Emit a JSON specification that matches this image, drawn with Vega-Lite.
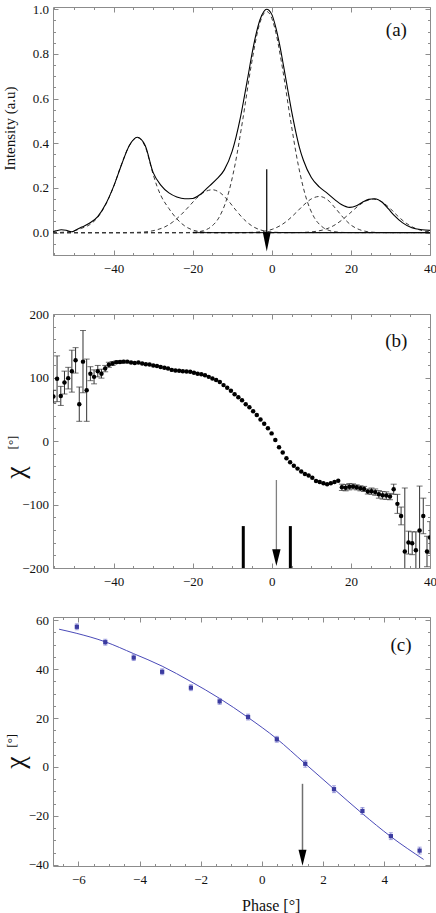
{
"$schema":"https://vega.github.io/schema/vega-lite/v6.json",
"padding":{"left":1,"top":3,"right":0,"bottom":0},
"background":"white",
"spacing":23,
"config":{
 "view":{"stroke":null},
 "font":"Liberation Serif",
 "axis":{"labelFont":"Liberation Serif","labelFontSize":13,"labelColor":"#111","domainColor":"#8c8c8c","tickColor":"#8c8c8c","domainWidth":1,"tickWidth":1,"grid":false,"labelFlush":false,"labelOverlap":false,"titleFont":"Liberation Serif","titleFontWeight":"normal","titleColor":"#111"},
 "text":{"font":"Liberation Serif"}
},
"datasets":{
 "one":[{}],
 "comp":[
  {"c":"C1","x":-55.3,"y":0},{"c":"C1","x":-52,"y":0.003},{"c":"C1","x":-50,"y":0.008},{"c":"C1","x":-48,"y":0.02},{"c":"C1","x":-46,"y":0.036},{"c":"C1","x":-44,"y":0.068},{"c":"C1","x":-42,"y":0.125},{"c":"C1","x":-40,"y":0.205},{"c":"C1","x":-38,"y":0.305},{"c":"C1","x":-36,"y":0.39},{"c":"C1","x":-34,"y":0.425},{"c":"C1","x":-32,"y":0.385},{"c":"C1","x":-30,"y":0.262},{"c":"C1","x":-29,"y":0.207},{"c":"C1","x":-28,"y":0.165},{"c":"C1","x":-26,"y":0.108},{"c":"C1","x":-24,"y":0.062},{"c":"C1","x":-22,"y":0.03},{"c":"C1","x":-20,"y":0.012},{"c":"C1","x":-18,"y":0.004},{"c":"C1","x":-16,"y":0.001},{"c":"C1","x":-14,"y":0},{"c":"C1","x":40,"y":0},
  {"c":"C2","x":-55.3,"y":0},{"c":"C2","x":-38,"y":0},{"c":"C2","x":-35,"y":0.001},{"c":"C2","x":-33,"y":0.002},{"c":"C2","x":-31,"y":0.0055},{"c":"C2","x":-29,"y":0.013},{"c":"C2","x":-27,"y":0.026},{"c":"C2","x":-25,"y":0.048},{"c":"C2","x":-23,"y":0.079},{"c":"C2","x":-21,"y":0.116},{"c":"C2","x":-19,"y":0.154},{"c":"C2","x":-17,"y":0.182},{"c":"C2","x":-15,"y":0.192},{"c":"C2","x":-13,"y":0.178},{"c":"C2","x":-11,"y":0.143},{"c":"C2","x":-9,"y":0.099},{"c":"C2","x":-7,"y":0.059},{"c":"C2","x":-5,"y":0.03},{"c":"C2","x":-3,"y":0.013},{"c":"C2","x":-1,"y":0.005},{"c":"C2","x":1,"y":0.0017},{"c":"C2","x":3,"y":0.0005},{"c":"C2","x":5,"y":0},{"c":"C2","x":40,"y":0},
  {"c":"C3","x":-55.3,"y":0},{"c":"C3","x":-24,"y":0},{"c":"C3","x":-21.3,"y":0.0006},{"c":"C3","x":-19.3,"y":0.0025},{"c":"C3","x":-17.3,"y":0.0087},{"c":"C3","x":-15.3,"y":0.027},{"c":"C3","x":-13.3,"y":0.069},{"c":"C3","x":-11.3,"y":0.155},{"c":"C3","x":-9.3,"y":0.303},{"c":"C3","x":-7.3,"y":0.509},{"c":"C3","x":-5.3,"y":0.737},{"c":"C3","x":-3.3,"y":0.92},{"c":"C3","x":-2.3,"y":0.972},{"c":"C3","x":-1.3,"y":0.99},{"c":"C3","x":-0.3,"y":0.972},{"c":"C3","x":0.7,"y":0.92},{"c":"C3","x":2.7,"y":0.737},{"c":"C3","x":4.7,"y":0.509},{"c":"C3","x":6.7,"y":0.303},{"c":"C3","x":8.7,"y":0.155},{"c":"C3","x":10.7,"y":0.069},{"c":"C3","x":12.7,"y":0.027},{"c":"C3","x":14.7,"y":0.0087},{"c":"C3","x":16.7,"y":0.0025},{"c":"C3","x":18.7,"y":0.0006},{"c":"C3","x":22,"y":0},{"c":"C3","x":40,"y":0},
  {"c":"C4","x":-55.3,"y":0},{"c":"C4","x":-8,"y":0},{"c":"C4","x":-5.9,"y":0.0008},{"c":"C4","x":-3.9,"y":0.0023},{"c":"C4","x":-1.9,"y":0.0063},{"c":"C4","x":0.1,"y":0.015},{"c":"C4","x":2.1,"y":0.031},{"c":"C4","x":4.1,"y":0.056},{"c":"C4","x":6.1,"y":0.089},{"c":"C4","x":8.1,"y":0.124},{"c":"C4","x":10.1,"y":0.152},{"c":"C4","x":12.1,"y":0.162},{"c":"C4","x":14.1,"y":0.147},{"c":"C4","x":16.1,"y":0.109},{"c":"C4","x":18.1,"y":0.067},{"c":"C4","x":20.1,"y":0.033},{"c":"C4","x":22.1,"y":0.014},{"c":"C4","x":24.1,"y":0.0047},{"c":"C4","x":26.1,"y":0.0013},{"c":"C4","x":28.1,"y":0.0003},{"c":"C4","x":30,"y":0},{"c":"C4","x":40,"y":0},
  {"c":"C5","x":-55.3,"y":0},{"c":"C5","x":5,"y":0},{"c":"C5","x":7.7,"y":0.001},{"c":"C5","x":9.7,"y":0.003},{"c":"C5","x":11.7,"y":0.0074},{"c":"C5","x":13.7,"y":0.016},{"c":"C5","x":15.7,"y":0.032},{"c":"C5","x":17.7,"y":0.056},{"c":"C5","x":19.7,"y":0.086},{"c":"C5","x":21.7,"y":0.117},{"c":"C5","x":23.7,"y":0.141},{"c":"C5","x":25.7,"y":0.15},{"c":"C5","x":27.7,"y":0.139},{"c":"C5","x":29.7,"y":0.112},{"c":"C5","x":31.7,"y":0.077},{"c":"C5","x":33.7,"y":0.046},{"c":"C5","x":35.7,"y":0.024},{"c":"C5","x":37.7,"y":0.0105},{"c":"C5","x":40,"y":0.0034}
 ],
 "prof":[
  {"x":-55.3,"y":0.004},{"x":-54.5,"y":0.008},{"x":-53.2,"y":0.013},{"x":-52,"y":0.011},{"x":-50.6,"y":0.004},{"x":-49.5,"y":0.012},{"x":-48,"y":0.025},{"x":-46,"y":0.043},{"x":-44,"y":0.072},{"x":-42,"y":0.127},{"x":-40,"y":0.206},{"x":-38,"y":0.303},{"x":-36,"y":0.39},{"x":-34,"y":0.427},{"x":-32,"y":0.39},{"x":-30,"y":0.27},{"x":-28,"y":0.212},{"x":-26,"y":0.178},{"x":-24,"y":0.16},{"x":-22,"y":0.152},{"x":-20,"y":0.153},{"x":-18,"y":0.172},{"x":-16,"y":0.205},{"x":-14,"y":0.238},{"x":-12,"y":0.281},{"x":-10,"y":0.365},{"x":-9,"y":0.43},{"x":-8,"y":0.509},{"x":-7,"y":0.602},{"x":-6,"y":0.7},{"x":-5,"y":0.8},{"x":-4,"y":0.886},{"x":-3,"y":0.952},{"x":-2,"y":0.99},{"x":-1.3,"y":1.0},{"x":0,"y":0.977},{"x":1,"y":0.92},{"x":2,"y":0.84},{"x":3,"y":0.744},{"x":4,"y":0.644},{"x":5,"y":0.545},{"x":6,"y":0.457},{"x":7,"y":0.381},{"x":8,"y":0.324},{"x":10,"y":0.247},{"x":12,"y":0.205},{"x":14,"y":0.177},{"x":16,"y":0.147},{"x":17.6,"y":0.126},{"x":19.7,"y":0.113},{"x":21.4,"y":0.12},{"x":23,"y":0.137},{"x":24.5,"y":0.149},{"x":26,"y":0.152},{"x":28,"y":0.135},{"x":29.5,"y":0.106},{"x":31,"y":0.076},{"x":33,"y":0.045},{"x":35.4,"y":0.022},{"x":38,"y":0.013},{"x":40,"y":0.01}
 ],
 "chi":[
  {"x":-55.2,"v":70,"e":10},{"x":-54.27,"v":98,"e":36},{"x":-53.33,"v":71,"e":15},{"x":-52.4,"v":92,"e":18},{"x":-51.46,"v":99,"e":17},{"x":-50.53,"v":110,"e":33},{"x":-49.59,"v":127,"e":20},{"x":-48.66,"v":58,"e":27},{"x":-47.72,"v":125,"e":49},{"x":-46.79,"v":80,"e":49},{"x":-45.85,"v":106,"e":11},{"x":-44.92,"v":101,"e":11},{"x":-43.98,"v":110,"e":9},{"x":-43.05,"v":106,"e":7},{"x":-42.11,"v":114,"e":5},{"x":-41.18,"v":120,"e":4},{"x":-40.24,"v":122,"e":3},{"x":-39.31,"v":124,"e":2},{"x":-38.37,"v":124.5,"e":2},{"x":-37.44,"v":125,"e":2},
  {"x":-36.5,"v":125,"e":0},{"x":-35.57,"v":123.5,"e":0},{"x":-34.63,"v":123,"e":0},{"x":-33.7,"v":123.5,"e":0},{"x":-32.76,"v":122,"e":0},{"x":-31.83,"v":121,"e":0},{"x":-30.89,"v":120.5,"e":0},{"x":-29.96,"v":119,"e":0},{"x":-29.02,"v":118,"e":0},{"x":-28.09,"v":116.5,"e":0},{"x":-27.15,"v":115.5,"e":0},{"x":-26.22,"v":114,"e":0},{"x":-25.28,"v":112,"e":0},{"x":-24.35,"v":111,"e":0},{"x":-23.41,"v":110.5,"e":0},{"x":-22.48,"v":110,"e":0},{"x":-21.54,"v":109.5,"e":0},{"x":-20.61,"v":109,"e":0},{"x":-19.67,"v":107.5,"e":0},{"x":-18.74,"v":106,"e":0},{"x":-17.8,"v":105,"e":0},{"x":-16.87,"v":103.5,"e":0},{"x":-15.93,"v":101,"e":0},{"x":-15,"v":98.5,"e":0},{"x":-14.06,"v":96,"e":0},{"x":-13.13,"v":93,"e":0},{"x":-12.19,"v":88,"e":0},{"x":-11.26,"v":84,"e":0},{"x":-10.32,"v":79,"e":0},{"x":-9.39,"v":73.5,"e":0},{"x":-8.45,"v":69,"e":0},{"x":-7.52,"v":64,"e":0},{"x":-6.58,"v":58,"e":0},{"x":-5.65,"v":53,"e":0},{"x":-4.71,"v":47,"e":0},{"x":-3.78,"v":41,"e":0},{"x":-2.84,"v":34,"e":0},{"x":-1.91,"v":27,"e":0},{"x":-0.97,"v":20,"e":0},{"x":-0.04,"v":12,"e":0},{"x":0.9,"v":1.5,"e":0},{"x":1.84,"v":-10,"e":0},{"x":2.77,"v":-18,"e":0},{"x":3.71,"v":-27,"e":0},{"x":4.64,"v":-33.5,"e":0},{"x":5.58,"v":-39,"e":0},{"x":6.51,"v":-43.5,"e":0},{"x":7.45,"v":-48,"e":0},{"x":8.38,"v":-52,"e":0},{"x":9.32,"v":-54.5,"e":0},{"x":10.25,"v":-58,"e":0},{"x":11.19,"v":-63,"e":0},{"x":12.12,"v":-64.5,"e":0},{"x":13.06,"v":-66.5,"e":0},{"x":13.99,"v":-68,"e":0},{"x":14.93,"v":-66.5,"e":0},{"x":15.86,"v":-64.5,"e":0},{"x":16.8,"v":-62.5,"e":0},
  {"x":17.73,"v":-73,"e":5},{"x":18.67,"v":-73.5,"e":5},{"x":19.6,"v":-72,"e":5},{"x":20.54,"v":-71.5,"e":4},{"x":21.47,"v":-73,"e":4},{"x":22.41,"v":-74.5,"e":4},{"x":23.34,"v":-75.5,"e":4},{"x":24.28,"v":-79.5,"e":4},{"x":25.21,"v":-79,"e":5},{"x":26.15,"v":-80.5,"e":5},{"x":27.08,"v":-84,"e":6},{"x":28.02,"v":-85.5,"e":6},{"x":28.95,"v":-86,"e":6},{"x":29.89,"v":-87.5,"e":5},{"x":30.82,"v":-76,"e":8},{"x":31.76,"v":-99,"e":15},{"x":32.69,"v":-118,"e":14},{"x":33.63,"v":-174,"e":100},{"x":34.56,"v":-160,"e":18},{"x":35.5,"v":-161,"e":18},{"x":36.43,"v":-172,"e":29},{"x":37.37,"v":-141,"e":70},{"x":38.3,"v":-118,"e":28},{"x":39.24,"v":-174,"e":24},{"x":40,"v":-152,"e":25}
 ],
 "bars":[{"x":-7.2,"lo":-200,"hi":-134},{"x":4.7,"lo":-200,"hi":-134}],
 "cpts":[
  {"x":-6.05,"v":57.3,"e":1.2},{"x":-5.12,"v":51.0,"e":1.2},{"x":-4.19,"v":44.7,"e":1.2},{"x":-3.26,"v":38.9,"e":1.2},{"x":-2.32,"v":32.4,"e":1.2},{"x":-1.38,"v":26.8,"e":1.2},{"x":-0.45,"v":20.4,"e":1.2},{"x":0.49,"v":11.3,"e":1.2},{"x":1.42,"v":1.3,"e":1.4},{"x":2.36,"v":-9.1,"e":1.4},{"x":3.29,"v":-18.0,"e":1.4},{"x":4.22,"v":-28.3,"e":1.4},{"x":5.16,"v":-34.2,"e":1.4}
 ],
 "cfit":[
  {"x":-6.63,"v":56.3},{"x":-6.05,"v":54.6},{"x":-5.13,"v":51.2},{"x":-4.19,"v":46.3},{"x":-3.26,"v":41.2},{"x":-2.32,"v":34.9},{"x":-1.38,"v":28.0},{"x":-0.46,"v":20.3},{"x":0.48,"v":11.6},{"x":1.41,"v":1.4},{"x":2.35,"v":-8.9},{"x":3.28,"v":-19.0},{"x":4.22,"v":-28.5},{"x":5.29,"v":-37.8}
 ]
},
"vconcat":[
 {
  "width":377,"height":248,
  "resolve":{"scale":{"x":"shared","y":"shared"},"axis":{"x":"independent","y":"independent"}},
  "layer":[
   {"data":{"name":"comp"},
    "mark":{"type":"line","strokeDash":[4,3],"strokeWidth":1,"color":"#3a3a3a","interpolate":"monotone","clip":true},
    "encoding":{
     "x":{"field":"x","type":"quantitative","scale":{"domain":[-55.3,40],"nice":false,"zero":false},
      "axis":{"orient":"bottom","values":[-55,-50,-45,-40,-35,-30,-25,-20,-15,-10,-5,0,5,10,15,20,25,30,35,40],"labelExpr":"datum.value % 20 === 0 ? datum.label : ''","tickSize":{"condition":{"test":"datum.value % 20 === 0","value":-5},"value":-2.5},"labelPadding":12,"title":null,"minExtent":30}},
     "y":{"field":"y","type":"quantitative","scale":{"domain":[-0.1,1.01],"nice":false,"zero":false},
      "axis":{"orient":"left","values":[-0.1,-0.05,0,0.05,0.1,0.15,0.2,0.25,0.3,0.35,0.4,0.45,0.5,0.55,0.6,0.65,0.7,0.75,0.8,0.85,0.9,0.95,1],"format":".1f","labelExpr":"abs(datum.value*5 - round(datum.value*5)) < 0.001 ? datum.label : ''","tickSize":{"condition":{"test":"abs(datum.value*5 - round(datum.value*5)) < 0.001","value":-5},"value":-2.5},"labelPadding":9.5,"title":"Intensity (a.u)","titleFontSize":15,"titleX":-43.8,"titleY":121,"titleBaseline":"middle","titleAngle":270}},
     "detail":{"field":"c"}
    }},
   {"data":{"name":"one"},"mark":{"type":"rule","color":"#000","strokeWidth":1},
    "encoding":{"x":{"datum":-20,"type":"quantitative","axis":null},"x2":{"datum":40},"y":{"datum":0,"type":"quantitative","axis":null}}},
   {"data":{"name":"prof"},
    "mark":{"type":"line","strokeWidth":1.1,"color":"#000","interpolate":"monotone","clip":true},
    "encoding":{
     "x":{"field":"x","type":"quantitative","scale":{"domain":[-55.3,40],"nice":false,"zero":false},
      "axis":{"orient":"top","values":[-55,-50,-45,-40,-35,-30,-25,-20,-15,-10,-5,0,5,10,15,20,25,30,35,40],"labels":false,"tickSize":{"condition":{"test":"datum.value % 20 === 0","value":-5},"value":-2.5},"title":null}},
     "y":{"field":"y","type":"quantitative","scale":{"domain":[-0.1,1.01],"nice":false,"zero":false},
      "axis":{"orient":"right","values":[-0.1,-0.05,0,0.05,0.1,0.15,0.2,0.25,0.3,0.35,0.4,0.45,0.5,0.55,0.6,0.65,0.7,0.75,0.8,0.85,0.9,0.95,1],"labels":false,"tickSize":{"condition":{"test":"abs(datum.value*5 - round(datum.value*5)) < 0.001","value":-5},"value":-2.5},"title":null}}
    }},
   {"data":{"name":"one"},"mark":{"type":"rule","color":"#000","strokeWidth":1.2},
    "encoding":{"x":{"datum":-1.27,"type":"quantitative","axis":null},"y":{"datum":0.284,"type":"quantitative","axis":null},"y2":{"datum":0.0}}},
   {"data":{"name":"one"},"mark":{"type":"point","shape":"M-0.41,-1L0.41,-1L0,1Z","filled":true,"color":"#000","opacity":1,"size":361},
    "encoding":{"x":{"datum":-1.27,"type":"quantitative","axis":null},"y":{"datum":-0.042,"type":"quantitative","axis":null}}},
   {"data":{"name":"one"},"mark":{"type":"text","fontSize":19,"color":"#111","align":"center","baseline":"middle"},
    "encoding":{"x":{"datum":31.5,"type":"quantitative","axis":null},"y":{"datum":0.906,"type":"quantitative","axis":null},"text":{"value":"(a)"}}}
  ]
 },
 {
  "width":377,"height":254,
  "resolve":{"scale":{"x":"shared","y":"shared"},"axis":{"x":"independent","y":"independent"}},
  "layer":[
   {"data":{"name":"chi"},"transform":[{"filter":"datum.e > 0"}],
    "mark":{"type":"errorbar","color":"#333","ticks":{"size":6},"clip":true},
    "encoding":{
     "x":{"field":"x","type":"quantitative","scale":{"domain":[-55.3,40],"nice":false,"zero":false},"axis":null},
     "y":{"field":"v","type":"quantitative","scale":{"domain":[-200,200],"nice":false,"zero":false},"axis":null},
     "yError":{"field":"e"}
    }},
   {"data":{"name":"chi"},
    "mark":{"type":"point","filled":true,"color":"#000","opacity":1,"size":20,"clip":true},
    "encoding":{
     "x":{"field":"x","type":"quantitative","scale":{"domain":[-55.3,40],"nice":false,"zero":false},
      "axis":{"orient":"bottom","values":[-55,-50,-45,-40,-35,-30,-25,-20,-15,-10,-5,0,5,10,15,20,25,30,35,40],"labelExpr":"datum.value % 20 === 0 ? datum.label : ''","tickSize":{"condition":{"test":"datum.value % 20 === 0","value":-5},"value":-2.5},"labelPadding":12,"title":null,"minExtent":15,"maxExtent":15}},
     "y":{"field":"v","type":"quantitative","scale":{"domain":[-200,200],"nice":false,"zero":false},
      "axis":{"orient":"left","values":[-200,-180,-160,-140,-120,-100,-80,-60,-40,-20,0,20,40,60,80,100,120,140,160,180,200],"labelExpr":"datum.value % 100 === 0 ? datum.label : ''","tickSize":{"condition":{"test":"datum.value % 100 === 0","value":-5},"value":-2.5},"labelPadding":9.5,"title":"χ","titleFontSize":28,"titleX":-38,"titleY":158,"titleBaseline":"middle","titleAngle":270}}
    }},
   {"data":{"name":"bars"},
    "mark":{"type":"rule","color":"#000","strokeWidth":3},
    "encoding":{
     "x":{"field":"x","type":"quantitative","scale":{"domain":[-55.3,40],"nice":false,"zero":false},
      "axis":{"orient":"top","values":[-55,-50,-45,-40,-35,-30,-25,-20,-15,-10,-5,0,5,10,15,20,25,30,35,40],"labels":false,"tickSize":{"condition":{"test":"datum.value % 20 === 0","value":-5},"value":-2.5},"title":null}},
     "y":{"field":"lo","type":"quantitative","scale":{"domain":[-200,200],"nice":false,"zero":false},
      "axis":{"orient":"right","values":[-200,-180,-160,-140,-120,-100,-80,-60,-40,-20,0,20,40,60,80,100,120,140,160,180,200],"labels":false,"tickSize":{"condition":{"test":"datum.value % 100 === 0","value":-5},"value":-2.5},"title":null}},
     "y2":{"field":"hi"}
    }},
   {"data":{"name":"one"},"mark":{"type":"rule","color":"#808080","strokeWidth":1.3},
    "encoding":{"x":{"datum":1.17,"type":"quantitative","axis":null},"y":{"datum":-61.4,"type":"quantitative","axis":null},"y2":{"datum":-172}}},
   {"data":{"name":"one"},"mark":{"type":"point","shape":"M-0.5,-1L0.5,-1L0,1Z","filled":true,"color":"#000","opacity":1,"size":279},
    "encoding":{"x":{"datum":1.17,"type":"quantitative","axis":null},"y":{"datum":-183.8,"type":"quantitative","axis":null}}},
   {"data":{"name":"one"},"mark":{"type":"text","fontSize":19,"color":"#111","align":"center","baseline":"middle"},
    "encoding":{"x":{"datum":31.5,"type":"quantitative","axis":null},"y":{"datum":157.9,"type":"quantitative","axis":null},"text":{"value":"(b)"}}},
   {"data":{"name":"one"},"mark":{"type":"text","fontSize":13,"color":"#111","align":"center","baseline":"middle","angle":270},
    "encoding":{"x":{"datum":-65.5,"type":"quantitative","axis":null},"y":{"datum":-2.4,"type":"quantitative","axis":null},"text":{"value":"[°]"}}}
  ]
 },
 {
  "width":377,"height":249,
  "resolve":{"scale":{"x":"shared","y":"shared"},"axis":{"x":"independent","y":"independent"}},
  "layer":[
   {"data":{"name":"cfit"},
    "mark":{"type":"line","color":"#4a4ab8","strokeWidth":1,"interpolate":"monotone","clip":true},
    "encoding":{
     "x":{"field":"x","type":"quantitative","scale":{"domain":[-6.83,5.5],"nice":false,"zero":false},
      "axis":{"orient":"bottom","values":[-6.5,-6,-5.5,-5,-4.5,-4,-3.5,-3,-2.5,-2,-1.5,-1,-0.5,0,0.5,1,1.5,2,2.5,3,3.5,4,4.5,5,5.5],"labelExpr":"datum.value % 2 === 0 ? replace(datum.label, '.0', '') : ''","tickSize":{"condition":{"test":"datum.value % 2 === 0","value":-5},"value":-2.5},"labelPadding":12,"title":"Phase [°]","titleFontSize":16,"titleX":217.7,"titleY":39.7,"titleBaseline":"middle"}},
     "y":{"field":"v","type":"quantitative","scale":{"domain":[-40.5,61.3],"nice":false,"zero":false},
      "axis":{"orient":"left","values":[-40,-35,-30,-25,-20,-15,-10,-5,0,5,10,15,20,25,30,35,40,45,50,55,60],"labelExpr":"datum.value % 20 === 0 ? datum.label : ''","tickSize":{"condition":{"test":"datum.value % 20 === 0","value":-5},"value":-2.5},"labelPadding":9.5,"title":"χ","titleFontSize":28,"titleX":-38,"titleY":145,"titleBaseline":"middle","titleAngle":270}}
    }},
   {"data":{"name":"cpts"},
    "mark":{"type":"errorbar","color":"#7f7fd0","ticks":{"size":4}},
    "encoding":{
     "x":{"field":"x","type":"quantitative","scale":{"domain":[-6.83,5.5],"nice":false,"zero":false},"axis":null},
     "y":{"field":"v","type":"quantitative","scale":{"domain":[-40.5,61.3],"nice":false,"zero":false},"axis":null},
     "yError":{"field":"e"}
    }},
   {"data":{"name":"cpts"},
    "mark":{"type":"square","filled":true,"color":"#3b3ba0","opacity":1,"size":18},
    "encoding":{
     "x":{"field":"x","type":"quantitative","scale":{"domain":[-6.83,5.5],"nice":false,"zero":false},
      "axis":{"orient":"top","values":[-6.5,-6,-5.5,-5,-4.5,-4,-3.5,-3,-2.5,-2,-1.5,-1,-0.5,0,0.5,1,1.5,2,2.5,3,3.5,4,4.5,5,5.5],"labels":false,"tickSize":{"condition":{"test":"datum.value % 2 === 0","value":-5},"value":-2.5},"title":null}},
     "y":{"field":"v","type":"quantitative","scale":{"domain":[-40.5,61.3],"nice":false,"zero":false},
      "axis":{"orient":"right","values":[-40,-35,-30,-25,-20,-15,-10,-5,0,5,10,15,20,25,30,35,40,45,50,55,60],"labels":false,"tickSize":{"condition":{"test":"datum.value % 20 === 0","value":-5},"value":-2.5},"title":null}}
    }},
   {"data":{"name":"one"},"mark":{"type":"rule","color":"#707070","strokeWidth":1.5},
    "encoding":{"x":{"datum":1.33,"type":"quantitative","axis":null},"y":{"datum":-6.9,"type":"quantitative","axis":null},"y2":{"datum":-34}}},
   {"data":{"name":"one"},"mark":{"type":"point","shape":"M-0.5,-1L0.5,-1L0,1Z","filled":true,"color":"#000","opacity":1,"size":256},
    "encoding":{"x":{"datum":1.33,"type":"quantitative","axis":null},"y":{"datum":-37.1,"type":"quantitative","axis":null}}},
   {"data":{"name":"one"},"mark":{"type":"text","fontSize":19,"color":"#111","align":"center","baseline":"middle"},
    "encoding":{"x":{"datum":4.55,"type":"quantitative","axis":null},"y":{"datum":49.8,"type":"quantitative","axis":null},"text":{"value":"(c)"}}},
   {"data":{"name":"one"},"mark":{"type":"text","fontSize":13,"color":"#111","align":"center","baseline":"middle","angle":270},
    "encoding":{"x":{"datum":-8.17,"type":"quantitative","axis":null},"y":{"datum":10.7,"type":"quantitative","axis":null},"text":{"value":"[°]"}}}
  ]
 }
]
}
